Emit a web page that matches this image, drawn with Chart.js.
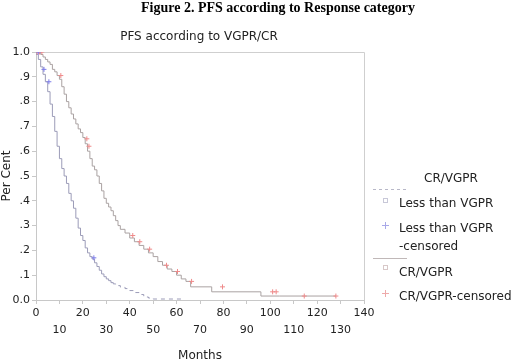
<!DOCTYPE html>
<html>
<head>
<meta charset="utf-8">
<script src="https://cdn.jsdelivr.net/npm/chart.js@4/dist/chart.umd.min.js"></script>
<style>
  html, body { margin: 0; padding: 0; background: #fff; }
  #wrap { width: 520px; height: 360px; }
</style>
</head>
<body>
<div id="wrap"><canvas id="pfsChart" width="520" height="360"></canvas></div>
<script>
// Less than VGPR - krivka (mesice, podil)
var lessMonths = [0, 1, 2, 3, 4, 5, 6, 7, 8, 9, 10, 11, 12, 13, 14, 15, 16, 17, 18, 19, 20,
    21, 22, 23, 24, 25, 26, 27, 28, 29, 30, 31, 32, 33, 34, 36, 38, 40, 42, 44, 46, 48, 50, 55, 62];
var lessSurv = [1.0, 0.99, 0.97, 0.94, 0.91, 0.88, 0.84, 0.79, 0.74, 0.68, 0.62, 0.57, 0.53, 0.50,
    0.47, 0.43, 0.40, 0.37, 0.33, 0.29, 0.26, 0.24, 0.21, 0.19, 0.175, 0.165, 0.15, 0.135, 0.12,
    0.105, 0.094, 0.085, 0.078, 0.07, 0.065, 0.058, 0.052, 0.046, 0.038, 0.03, 0.022, 0.012,
    0.008, 0.004, 0.004];
// Less than VGPR - cenzurovani
var lessCensMonths = [1, 3.4, 5.5, 24.7];
var lessCensSurv = [1.0, 0.93, 0.88, 0.17];

// CR/VGPR - krivka
var crMonths = [0, 1, 2, 3, 4, 5, 6, 7, 8, 9, 10, 11, 12, 13, 14, 15, 16, 17, 18, 19, 20, 21, 22,
    23, 24, 25, 26, 27, 28, 29, 30, 31, 32, 33, 34, 35, 36, 38, 40, 42, 44, 46, 48, 50, 52, 54,
    56, 58, 60, 62, 64, 66, 75, 96, 104, 128];
var crSurv = [1.0, 1.0, 1.0, 0.99, 0.98, 0.97, 0.96, 0.95, 0.93, 0.92, 0.905, 0.89, 0.86, 0.83,
    0.80, 0.775, 0.75, 0.73, 0.71, 0.69, 0.675, 0.655, 0.63, 0.60, 0.57, 0.54, 0.525, 0.50, 0.47,
    0.44, 0.41, 0.39, 0.375, 0.36, 0.34, 0.32, 0.30, 0.285, 0.27, 0.25, 0.235, 0.22, 0.205, 0.19,
    0.175, 0.155, 0.14, 0.125, 0.115, 0.10, 0.085, 0.075, 0.053, 0.033, 0.016, 0.016];
// CR/VGPR - cenzurovani
var crCensMonths = [0.5, 1.5, 2.5, 10.6, 21.7, 22.6, 41.3, 44.3, 48.5, 55.7, 60.4, 66.4, 79.6,
    101, 102.5, 114.5, 128];
var crCensSurv = [1.0, 1.0, 1.0, 0.905, 0.65, 0.62, 0.26, 0.235, 0.205, 0.14, 0.115, 0.075,
    0.053, 0.033, 0.033, 0.016, 0.016];

var legendLabels = ['Less than VGPR', 'Less than VGPR', 'CR/VGPR', 'CR/VGPR-censored'];

function toPoints(xs, ys) {
    return xs.map(function (x, i) { return { x: x, y: ys[i] }; });
}

var comic = '"DejaVu Sans", sans-serif';

// vlastni popisky, ramecek a legenda
var decorPlugin = {
    id: 'decor',
    beforeDatasetsDraw: function (chart) {
        var a = chart.chartArea, ctx = chart.ctx;
        ctx.save();
        ctx.strokeStyle = '#cfcfcf';
        ctx.lineWidth = 1;
        ctx.beginPath();
        ctx.moveTo(a.left, a.top + 0.5);
        ctx.lineTo(a.right + 0.5, a.top + 0.5);
        ctx.lineTo(a.right + 0.5, a.bottom);
        ctx.stroke();
        ctx.restore();
    },
    afterDraw: function (chart) {
        var ctx = chart.ctx;
        ctx.save();
        ctx.fillStyle = '#000';
        ctx.textAlign = 'center';
        ctx.textBaseline = 'middle';
        ctx.font = 'bold 14px "Liberation Serif", serif';
        ctx.fillText('Figure 2. PFS according to Response category', 278, 8);
        ctx.fillStyle = '#222';
        ctx.font = '12px ' + comic;
        ctx.fillText('PFS according to VGPR/CR', 199, 37);

        // legenda
        ctx.fillText('CR/VGPR', 451, 179);
        ctx.textAlign = 'left';
        ctx.fillText(legendLabels[0], 399, 204);
        ctx.fillText(legendLabels[1], 399, 229);
        ctx.fillText('-censored', 399, 247);
        ctx.fillText(legendLabels[2], 399, 273);
        ctx.fillText(legendLabels[3], 399, 297);

        ctx.lineWidth = 1;
        ctx.strokeStyle = '#b8b8c8';
        ctx.setLineDash([3, 3]);
        ctx.beginPath();
        ctx.moveTo(373, 189.5);
        ctx.lineTo(407, 189.5);
        ctx.stroke();
        ctx.setLineDash([]);
        ctx.strokeStyle = '#c0b8b8';
        ctx.beginPath();
        ctx.moveTo(373, 258.5);
        ctx.lineTo(407, 258.5);
        ctx.stroke();

        ctx.strokeStyle = '#c8c8d8';
        ctx.strokeRect(383.5, 198.5, 4, 4);
        ctx.strokeStyle = '#d8c8c8';
        ctx.strokeRect(383.5, 265.5, 4, 4);

        ctx.strokeStyle = '#a8a8e8';
        ctx.beginPath();
        ctx.moveTo(382, 225.5); ctx.lineTo(389, 225.5);
        ctx.moveTo(385.5, 222); ctx.lineTo(385.5, 229);
        ctx.stroke();
        ctx.strokeStyle = '#eeaaaa';
        ctx.beginPath();
        ctx.moveTo(382, 293.5); ctx.lineTo(389, 293.5);
        ctx.moveTo(385.5, 290); ctx.lineTo(385.5, 297);
        ctx.stroke();
        ctx.restore();
    }
};

document.addEventListener('DOMContentLoaded', function () {
    var ctx = document.getElementById('pfsChart').getContext('2d');

    new Chart(ctx, {
        type: 'line',
        data: {
            datasets: [{
                label: legendLabels[0],
                data: toPoints(lessMonths, lessSurv),
                borderColor: '#9c9cb8',
                borderWidth: 1,
                stepped: 'after',
                pointRadius: 0,
                fill: false,
                order: 2,
                // strma cast vypada plna, konec je carkovany
                segment: {
                    borderDash: function (c) { return c.p0.parsed.x >= 33 ? [4, 4] : undefined; }
                }
            }, {
                label: legendLabels[2],
                data: toPoints(crMonths, crSurv),
                borderColor: '#aaa2a2',
                borderWidth: 1,
                stepped: 'after',
                pointRadius: 0,
                fill: false,
                order: 2
            }, {
                label: legendLabels[1] + '-censored',
                data: toPoints(lessCensMonths, lessCensSurv),
                showLine: false,
                pointStyle: 'cross',
                pointRadius: 2.5,
                pointBorderWidth: 1,
                pointBorderColor: '#7c7cea',
                order: 1
            }, {
                label: legendLabels[3],
                data: toPoints(crCensMonths, crCensSurv),
                showLine: false,
                pointStyle: 'cross',
                pointRadius: 2.5,
                pointBorderWidth: 1,
                pointBorderColor: '#ef8a8a',
                order: 1
            }]
        },
        options: {
            responsive: false,
            animation: false,
            layout: { padding: { left: 0, top: 52, right: 156, bottom: 0 } },
            plugins: {
                legend: { display: false },
                tooltip: { enabled: false }
            },
            scales: {
                x: {
                    type: 'linear',
                    min: 0,
                    max: 140,
                    afterFit: function (scale) { scale.height = 60; },
                    grid: { drawOnChartArea: false, tickLength: 4, color: '#c8c8c8' },
                    border: { color: '#c8c8c8' },
                    ticks: {
                        stepSize: 10,
                        padding: 1,
                        color: '#222',
                        maxRotation: 0,
                        autoSkip: false,
                        font: { family: comic, size: 11, lineHeight: 1.55 },
                        callback: function (v) {
                            return (v / 10) % 2 === 0 ? [String(v)] : ['', String(v)];
                        }
                    },
                    title: {
                        display: true,
                        text: 'Months',
                        color: '#222',
                        padding: { top: 0, bottom: -2 },
                        font: { family: comic, size: 12, lineHeight: 1 }
                    }
                },
                y: {
                    min: 0,
                    max: 1,
                    afterFit: function (scale) { scale.width = 36; },
                    grid: { drawOnChartArea: false, tickLength: 4, color: '#c8c8c8' },
                    border: { color: '#c8c8c8' },
                    ticks: {
                        stepSize: 0.1,
                        padding: 2,
                        color: '#222',
                        font: { family: comic, size: 11 },
                        callback: function (v) {
                            var n = Math.round(v * 10);
                            if (n === 0) return '0.0';
                            if (n === 10) return '1.0';
                            return '.' + n;
                        }
                    },
                    title: {
                        display: true,
                        text: 'Per Cent',
                        color: '#222',
                        padding: 0,
                        font: { family: comic, size: 12 }
                    }
                }
            }
        },
        plugins: [decorPlugin]
    });
});
</script>
</body>
</html>
